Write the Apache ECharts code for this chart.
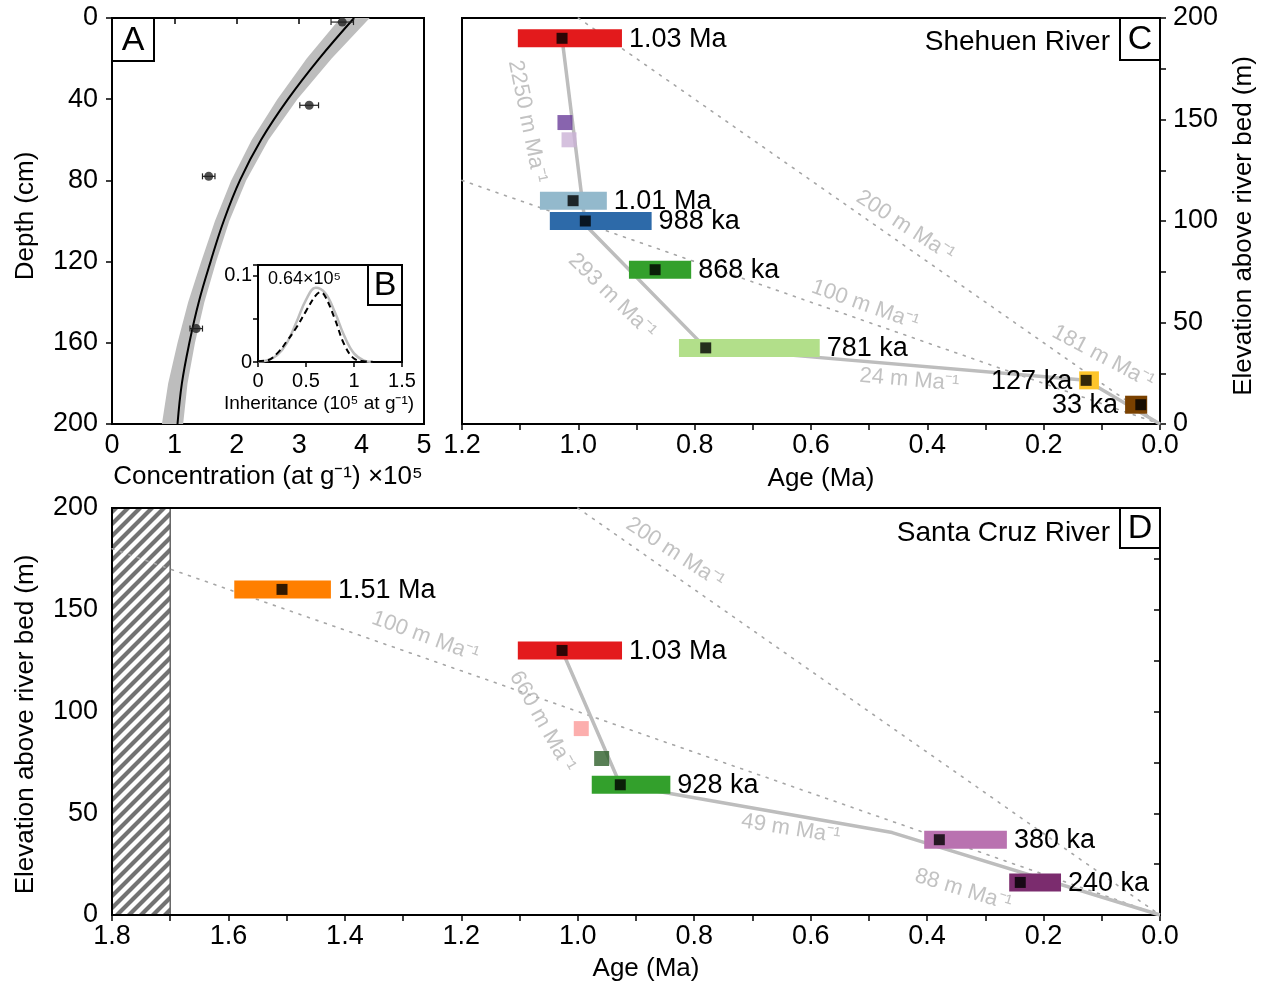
<!DOCTYPE html>
<html>
<head>
<meta charset="utf-8">
<script src="https://cdn.jsdelivr.net/npm/echarts@6/dist/echarts.min.js"></script>
<style>
  html, body { margin: 0; padding: 0; background: #fff; }
  #chart { width: 1272px; height: 989px; }
</style>
</head>
<body>
<div id="chart"></div>
<script>
// ---- A: depth profile ----
const profDepth = [2, 43, 78, 153];
const profConc = [3.69, 3.16, 1.55, 1.35];
const profErr = [0.18, 0.15, 0.1, 0.1];
const curveDepth = [0, 20, 40, 60, 80, 100, 120, 140, 160, 180, 200];
const curveConc = [3.88, 3.32, 2.82, 2.39, 2.05, 1.79, 1.58, 1.39, 1.24, 1.12, 1.05];
const bandLo = [3.66, 3.12, 2.65, 2.24, 1.91, 1.65, 1.43, 1.22, 1.05, 0.90, 0.80];
const bandHi = [4.13, 3.52, 2.97, 2.51, 2.15, 1.88, 1.67, 1.48, 1.33, 1.21, 1.14];

// ---- B: inheritance ----
const priorX = [0, 0.1, 0.2, 0.3, 0.4, 0.5, 0.6, 0.7, 0.8, 0.9, 1.0, 1.1, 1.2];
const priorY = [0.0005, 0.002, 0.008, 0.022, 0.046, 0.072, 0.086, 0.08, 0.058, 0.03, 0.01, 0.002, 0];
const postX = [0, 0.1, 0.2, 0.3, 0.4, 0.5, 0.6, 0.65, 0.7, 0.8, 0.9, 1.0, 1.1, 1.3, 1.5];
const postY = [0.001, 0.002, 0.01, 0.024, 0.04, 0.059, 0.077, 0.081, 0.076, 0.05, 0.02, 0.004, 0.001, 0, 0];

// ---- C: Shehuen River ----
const cAge = [1.028, 1.009, 0.988, 0.868, 0.781, 0.127, 0.033];
const cElev = [190, 110, 100, 76, 37.5, 21.5, 9.5];
const cLo = [0.925, 0.951, 0.874, 0.806, 0.585, 0.105, 0.022];
const cHi = [1.104, 1.066, 1.049, 0.913, 0.827, 0.139, 0.060];
const cLabels = ['1.03 Ma', '1.01 Ma', '988 ka', '868 ka', '781 ka', '127 ka', '33 ka'];
const cSide = ['r', 'r', 'r', 'r', 'r', 'l', 'l'];
const cColors = ['#e31a1c', '#93b9cc', '#2d6aa9', '#33a02c', '#b2df8a', '#fdc52b', '#7a4100'];
const cSqAge = [1.023, 1.016];
const cSqElev = [148.5, 140];
const cSqColors = ['#6a3d9a', '#cab2d6'];
const cPath = [[1.028, 190], [0.988, 98], [0.781, 37.5], [0.127, 21.5], [0, 0]];
const cRef200 = [[1.0, 200], [0, 0]];
const cRef100 = [[1.2, 120], [0, 0]];
const cNoteText = ['2250 m Ma⁻¹', '293 m Ma⁻¹', '200 m Ma⁻¹', '100 m Ma⁻¹', '181 m Ma⁻¹', '24 m Ma⁻¹'];
const cNoteAge = [1.088, 0.942, 0.438, 0.507, 0.098, 0.431];
const cNoteElev = [149, 63, 97.5, 58.6, 33, 21.7];
const cNoteAngle = [-78.5, -44, -33, -19.5, -28, -5];

// ---- D: Santa Cruz River ----
const dAge = [1.508, 1.027, 0.927, 0.379, 0.240];
const dElev = [160, 130, 64, 37, 16];
const dLo = [1.424, 0.924, 0.841, 0.263, 0.170];
const dHi = [1.590, 1.103, 0.976, 0.405, 0.259];
const dLabels = ['1.51 Ma', '1.03 Ma', '928 ka', '380 ka', '240 ka'];
const dSide = ['r', 'r', 'r', 'r', 'r'];
const dColors = ['#ff7f00', '#e31a1c', '#33a02c', '#b972b0', '#7b2c6e'];
const dSqAge = [0.994, 0.959];
const dSqElev = [91.6, 76.9];
const dSqColors = ['#fb9a99', '#2e5f2a'];
const dPath = [[1.027, 130], [0.927, 64], [0.46, 40.5], [0, 0]];
const dRef200 = [[1.0, 200], [0, 0]];
const dRef100 = [[1.8, 180], [0, 0]];
const dHatch = [1.8, 1.7];
const dNoteText = ['200 m Ma⁻¹', '100 m Ma⁻¹', '660 m Ma⁻¹', '49 m Ma⁻¹', '88 m Ma⁻¹'];
const dNoteAge = [0.833, 1.262, 1.061, 0.634, 0.338];
const dNoteElev = [177.9, 136.8, 95, 42.3, 12.3];
const dNoteAngle = [-33, -20, -60.5, -9, -17];

// ---- layout ----
const FONT = '"Liberation Sans", Arial, Helvetica, sans-serif';
const GA = { left: 112, top: 18, width: 312, height: 406 };
const GB = { left: 258, top: 265, width: 144, height: 97 };
const GC = { left: 462, top: 18, width: 698, height: 406 };
const GD = { left: 112, top: 508, width: 1048, height: 407 };

const chart = echarts.init(document.getElementById('chart'));

// hatch pattern
const hatch = document.createElement('canvas');
hatch.width = 12; hatch.height = 12;
const hc = hatch.getContext('2d');
hc.fillStyle = '#fff'; hc.fillRect(0, 0, 12, 12);
hc.strokeStyle = '#737373'; hc.lineWidth = 4.2;
hc.beginPath();
hc.moveTo(-3, 15); hc.lineTo(15, -3);
hc.moveTo(-3, 3); hc.lineTo(3, -3);
hc.moveTo(9, 15); hc.lineTo(15, 9);
hc.stroke();

function grid(g, bg) {
  return Object.assign({}, g, {
    show: true, borderColor: '#000', borderWidth: 2,
    backgroundColor: bg || 'transparent', containLabel: false, outerBoundsMode: 'none'
  });
}

const tick = (len) => ({ show: true, inside: false, length: len, lineStyle: { color: '#000', width: 1.5 } });
const lab = (size, extra) => Object.assign({
  color: '#000', fontSize: size, fontFamily: FONT, showMinLabel: true, showMaxLabel: true
}, extra || {});
const nameStyle = (size, pad) => ({ color: '#000', fontSize: size, fontFamily: FONT, padding: pad || 0 });
const every2 = v => { const k = Math.round(v * 10); return k % 2 === 0 ? (k / 10).toFixed(1) : ''; };
const every50 = v => (Math.round(v) % 50 === 0 ? String(Math.round(v)) : '');

function valAxis(o) {
  return Object.assign({
    type: 'value', axisLine: { show: false }, splitLine: { show: false },
    nameLocation: 'middle', nameMoveOverlap: false
  }, o);
}

function barRender(labels, colors, sides) {
  return function (params, api) {
    const i = params.dataIndex;
    const a = api.coord([api.value(0), api.value(2)]);
    const b = api.coord([api.value(1), api.value(2)]);
    const x0 = Math.min(a[0], b[0]), x1 = Math.max(a[0], b[0]);
    const h = 18;
    const right = sides[i] !== 'l';
    return {
      type: 'group',
      children: [
        { type: 'rect', shape: { x: x0, y: a[1] - h / 2, width: x1 - x0, height: h }, style: { fill: colors[i] } },
        {
          type: 'text',
          style: {
            text: labels[i], x: right ? x1 + 7 : x0 - 7, y: a[1] + 1,
            font: '27px ' + FONT, fill: '#000',
            align: right ? 'left' : 'right', verticalAlign: 'middle',
            textAlign: right ? 'left' : 'right', textVerticalAlign: 'middle'
          }
        }
      ]
    };
  };
}

function notes(xi, text, age, elev, ang) {
  return {
    type: 'scatter', xAxisIndex: xi, yAxisIndex: xi, symbolSize: 0.1, silent: true, z: 3,
    itemStyle: { color: 'transparent' },
    data: text.map((t, i) => ({
      name: t, value: [age[i], elev[i]],
      label: { rotate: ang[i] }
    })),
    label: {
      show: true, position: 'inside', formatter: '{b}', color: '#b3b3b3',
      fontSize: 22, fontFamily: FONT, align: 'center', verticalAlign: 'middle'
    }
  };
}

const dotted = { color: '#a6a6a6', width: 1.6, type: [2, 7], cap: 'round' };

function refLine(xi, data) {
  return { type: 'line', xAxisIndex: xi, yAxisIndex: xi, data: data, showSymbol: false, silent: true, z: 1, lineStyle: dotted };
}
function pathLine(xi, data) {
  return { type: 'line', xAxisIndex: xi, yAxisIndex: xi, data: data, showSymbol: false, silent: true, z: 2, lineStyle: { color: '#bdbdbd', width: 3.5 } };
}
function bars(xi, lo, hi, elev, labels, colors, sides) {
  return {
    type: 'custom', xAxisIndex: xi, yAxisIndex: xi, silent: true, z: 3,
    renderItem: barRender(labels, colors, sides),
    encode: { x: [0, 1], y: 2 },
    data: lo.map((l, i) => [l, hi[i], elev[i]])
  };
}
function squares(xi, age, elev, colors) {
  return {
    type: 'scatter', xAxisIndex: xi, yAxisIndex: xi, symbol: 'rect', symbolSize: 15, silent: true, z: 3,
    data: age.map((a, i) => ({ value: [a, elev[i]], itemStyle: { color: colors[i] } }))
  };
}
function markers(xi, age, elev) {
  return {
    type: 'scatter', xAxisIndex: xi, yAxisIndex: xi, symbol: 'rect', symbolSize: 11, silent: true, z: 4,
    itemStyle: { color: '#000' },
    data: age.map((a, i) => [a, elev[i]])
  };
}

function boxLabel(x, y, w, h, t, size) {
  return [
    { type: 'rect', z: 100, shape: { x: x, y: y, width: w, height: h }, style: { fill: '#fff', stroke: '#000', lineWidth: 2 } },
    {
      type: 'text', z: 101, x: x + w / 2, y: y + h / 2 + 1,
      style: { text: t, font: size + 'px ' + FONT, fill: '#000', textAlign: 'center', textVerticalAlign: 'middle', align: 'center', verticalAlign: 'middle' }
    }
  ];
}
function plainText(x, y, t, size, align) {
  return {
    type: 'text', z: 101, x: x, y: y,
    style: { text: t, font: size + 'px ' + FONT, fill: '#000', textAlign: align, textVerticalAlign: 'middle', align: align, verticalAlign: 'middle' }
  };
}

const option = {
  animation: false,
  backgroundColor: '#fff',
  grid: [grid(GA), grid(GB, '#fff'), grid(GC), grid(GD)],
  xAxis: [
    valAxis({
      gridIndex: 0, min: 0, max: 5, interval: 1, position: 'bottom',
      axisTick: tick(6), axisLabel: lab(27, { margin: 8 }),
      name: 'Concentration (at g⁻¹) ×10⁵', nameGap: 40, nameTextStyle: nameStyle(26)
    }),
    valAxis({
      gridIndex: 1, min: 0, max: 1.5, interval: 0.5, position: 'bottom',
      axisTick: tick(5), axisLabel: lab(20, { margin: 9 }),
      name: 'Inheritance (10⁵ at g⁻¹)', nameGap: 32, nameTextStyle: nameStyle(19, [0, 22, 0, 0])
    }),
    valAxis({
      gridIndex: 2, min: 0, max: 1.2, interval: 0.1, inverse: true, position: 'bottom',
      axisTick: tick(6), axisLabel: lab(27, { margin: 8, formatter: every2 }),
      name: 'Age (Ma)', nameGap: 42, nameTextStyle: nameStyle(26, [0, 0, 0, 20])
    }),
    valAxis({
      gridIndex: 3, min: 0, max: 1.8, interval: 0.1, inverse: true, position: 'bottom',
      axisTick: tick(6), axisLabel: lab(27, { margin: 8, formatter: every2 }),
      name: 'Age (Ma)', nameGap: 41, nameTextStyle: nameStyle(26, [0, 0, 0, 20])
    })
  ],
  yAxis: [
    valAxis({
      gridIndex: 0, min: 0, max: 200, interval: 40, inverse: true, position: 'left',
      axisTick: tick(6), axisLabel: lab(27, { margin: 14 }),
      name: 'Depth (cm)', nameGap: 73, nameRotate: 90, nameTextStyle: nameStyle(26, [0, 0, 0, 10])
    }),
    valAxis({
      gridIndex: 1, min: 0, max: 0.1125, interval: 0.05, position: 'left',
      axisTick: tick(5), axisLabel: lab(20, { margin: 6, formatter: v => (v === 0 ? '0' : Math.abs(v - 0.1) < 1e-9 ? '0.1' : '') })
    }),
    valAxis({
      gridIndex: 2, min: 0, max: 200, interval: 25, position: 'right',
      axisTick: tick(6), axisLabel: lab(27, { margin: 13, formatter: every50 }),
      name: 'Elevation above river bed (m)', nameGap: 71, nameRotate: 90, nameTextStyle: nameStyle(26, [0, 10, 0, 0])
    }),
    valAxis({
      gridIndex: 3, min: 0, max: 200, interval: 25, position: 'left',
      axisTick: tick(6), axisLabel: lab(27, { margin: 14, formatter: every50 }),
      name: 'Elevation above river bed (m)', nameGap: 73, nameRotate: 90, nameTextStyle: nameStyle(26, [0, 26, 0, 0])
    })
  ],
  series: [
    // A band
    {
      type: 'custom', xAxisIndex: 0, yAxisIndex: 0, silent: true, z: 1,
      data: [[0, 0]],
      renderItem: function (params, api) {
        const pts = [];
        for (let i = 0; i < curveDepth.length; i++) pts.push(api.coord([bandLo[i], curveDepth[i]]));
        for (let i = curveDepth.length - 1; i >= 0; i--) pts.push(api.coord([bandHi[i], curveDepth[i]]));
        return { type: 'polygon', shape: { points: pts }, style: { fill: '#bdbdbd' } };
      }
    },
    {
      type: 'line', xAxisIndex: 0, yAxisIndex: 0, smooth: 0.4, showSymbol: false, silent: true, z: 2,
      lineStyle: { color: '#000', width: 2 },
      data: curveConc.map((c, i) => [c, curveDepth[i]])
    },
    {
      type: 'custom', xAxisIndex: 0, yAxisIndex: 0, silent: true, z: 3,
      data: profConc.map((c, i) => [c, profDepth[i], profErr[i]]),
      encode: { x: 0, y: 1 },
      renderItem: function (params, api) {
        const c = api.value(0), d = api.value(1), e = api.value(2);
        const l = api.coord([c - e, d]), r = api.coord([c + e, d]);
        const st = { stroke: '#222', lineWidth: 1.2 };
        return {
          type: 'group', children: [
            { type: 'line', shape: { x1: l[0], y1: l[1], x2: r[0], y2: r[1] }, style: st },
            { type: 'line', shape: { x1: l[0], y1: l[1] - 3, x2: l[0], y2: l[1] + 3 }, style: st },
            { type: 'line', shape: { x1: r[0], y1: r[1] - 3, x2: r[0], y2: r[1] + 3 }, style: st }
          ]
        };
      }
    },
    {
      type: 'scatter', xAxisIndex: 0, yAxisIndex: 0, symbol: 'circle', symbolSize: 9, silent: true, z: 4,
      itemStyle: { color: '#222' },
      data: profConc.map((c, i) => [c, profDepth[i]])
    },
    // B
    {
      type: 'line', xAxisIndex: 1, yAxisIndex: 1, smooth: 0.4, showSymbol: false, silent: true, z: 5,
      lineStyle: { color: '#bdbdbd', width: 2.5 },
      data: priorX.map((x, i) => [x, priorY[i]])
    },
    {
      type: 'line', xAxisIndex: 1, yAxisIndex: 1, smooth: 0.4, showSymbol: false, silent: true, z: 6,
      lineStyle: { color: '#000', width: 2, type: [6, 4] },
      data: postX.map((x, i) => [x, postY[i]])
    },
    // C
    refLine(2, cRef200),
    refLine(2, cRef100),
    pathLine(2, cPath),
    bars(2, cLo, cHi, cElev, cLabels, cColors, cSide),
    squares(2, cSqAge, cSqElev, cSqColors),
    markers(2, cAge, cElev),
    notes(2, cNoteText, cNoteAge, cNoteElev, cNoteAngle),
    // D
    {
      type: 'custom', xAxisIndex: 3, yAxisIndex: 3, silent: true, z: -1,
      data: [[dHatch[0], dHatch[1], 0, 200]],
      encode: { x: [0, 1], y: [2, 3] },
      renderItem: function (params, api) {
        const p0 = api.coord([api.value(0), api.value(3)]);
        const p1 = api.coord([api.value(1), api.value(2)]);
        return {
          type: 'rect',
          shape: { x: Math.min(p0[0], p1[0]), y: Math.min(p0[1], p1[1]), width: Math.abs(p1[0] - p0[0]), height: Math.abs(p1[1] - p0[1]) },
          style: { fill: { image: hatch, repeat: 'repeat' }, stroke: '#666', lineWidth: 1.5 }
        };
      }
    },
    refLine(3, dRef200),
    refLine(3, dRef100),
    pathLine(3, dPath),
    bars(3, dLo, dHi, dElev, dLabels, dColors, dSide),
    squares(3, dSqAge, dSqElev, dSqColors),
    markers(3, dAge, dElev),
    notes(3, dNoteText, dNoteAge, dNoteElev, dNoteAngle)
  ],
  graphic: [].concat(
    boxLabel(GA.left, GA.top, 42, 43, 'A', 34),
    boxLabel(GB.left + GB.width - 34, GB.top, 34, 40, 'B', 34),
    boxLabel(GC.left + GC.width - 40, GC.top, 40, 42, 'C', 34),
    boxLabel(GD.left + GD.width - 40, GD.top, 40, 40, 'D', 34),
    [
      plainText(GC.left + GC.width - 50, GC.top + 24, 'Shehuen River', 28, 'right'),
      plainText(GD.left + GD.width - 50, GD.top + 25, 'Santa Cruz River', 28, 'right'),
      plainText(GB.left + 10, GB.top + 14, '0.64×10⁵', 18, 'left')
    ]
  )
};

chart.setOption(option);
</script>
</body>
</html>
